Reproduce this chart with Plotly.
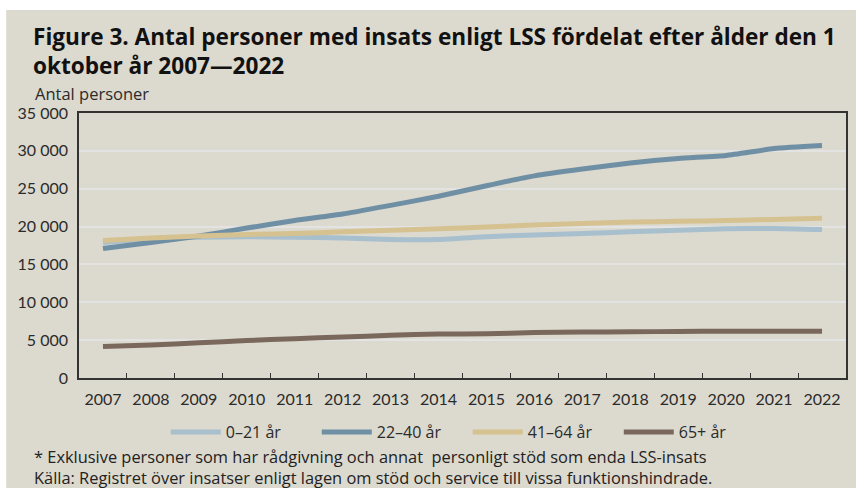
import plotly.graph_objects as go

# Antal personer med insats enligt LSS per åldersgrupp, 1 oktober
years = [str(y) for y in range(2007, 2023)]
age_0_21 = [17900, 18400, 18600, 18650, 18600, 18500, 18300, 18300,
            18650, 18900, 19100, 19300, 19500, 19700, 19750, 19600]
age_22_40 = [17100, 17900, 18750, 19800, 20800, 21650, 22800, 24000,
             25400, 26700, 27600, 28400, 29000, 29400, 30300, 30700]
age_41_64 = [18150, 18500, 18750, 18950, 19100, 19300, 19500, 19700,
             19950, 20200, 20400, 20600, 20700, 20800, 20950, 21100]
age_65_plus = [4150, 4350, 4650, 4950, 5200, 5400, 5650, 5800,
               5850, 6000, 6080, 6100, 6150, 6170, 6170, 6170]

series_names = ["0–21 år", "22–40 år", "41–64 år", "65+ år"]
series_values = [age_0_21, age_22_40, age_41_64, age_65_plus]
series_colors = ["#a8bfce", "#6f8fa4", "#d6c290", "#7b685d"]

y_ticks = list(range(0, 35001, 5000))

TEXT_FONT = "Open Sans"
TICK_FONT = "Lato"
W, H = 856, 488
ML, MR, MT, MB = 79, 8, 113, 110
PW, PH = W - ML - MR, H - MT - MB


def px_x(px):
    return (px - ML) / PW


def px_y(py):
    return (H - MB - py) / PH


fig = go.Figure()
for name, vals, col in zip(series_names, series_values, series_colors):
    fig.add_trace(go.Scatter(
        x=years, y=vals, name=name, mode="lines",
        line=dict(color=col, width=5, shape="spline", smoothing=0.5),
    ))

notes = ("* Exklusive personer som har rådgivning och annat  personligt stöd som enda LSS-insats"
         "<br>Källa: Registret över insatser enligt lagen om stöd och service till vissa funktionshindrade.")

fig.update_layout(
    width=W, height=H,
    margin=dict(l=ML, r=MR, t=MT, b=MB),
    paper_bgcolor="white",
    plot_bgcolor="white",
    separators=", ",
    font=dict(family=TEXT_FONT, size=16, color="#2b2b2b"),
    showlegend=True,
    legend=dict(
        orientation="h", x=px_x(166), xanchor="left",
        y=px_y(432), yanchor="middle",
        bgcolor="rgba(0,0,0,0)", font=dict(size=16, color="#2b2b2b"),
        entrywidth=86, itemwidth=50,
    ),
    shapes=[dict(
        type="rect", xref="paper", yref="paper", layer="below",
        x0=px_x(6), x1=px_x(W + 2), y0=px_y(H + 2), y1=px_y(10),
        fillcolor="#dcd9ce", line=dict(width=0),
    )],
    annotations=[
        dict(text="<b>Figure 3. Antal personer med insats enligt LSS fördelat efter ålder den 1<br>oktober år 2007—2022</b>",
             xref="paper", yref="paper", x=px_x(31), y=px_y(19),
             xanchor="left", yanchor="top", align="left", showarrow=False,
             font=dict(size=22.6, color="#111111", family=TEXT_FONT)),
        dict(text="Antal personer", xref="paper", yref="paper",
             x=px_x(33), y=px_y(93), xanchor="left", yanchor="middle",
             showarrow=False, font=dict(size=16.5, color="#2b2b2b")),
        dict(text=notes, xref="paper", yref="paper",
             x=px_x(33), y=px_y(490), xanchor="left", yanchor="bottom",
             align="left", showarrow=False, borderpad=0,
             font=dict(size=16.4, color="#222222")),
    ],
)

fig.update_xaxes(
    type="category", categoryorder="array", categoryarray=years,
    range=[-0.5, len(years) - 0.5],
    tickson="boundaries", ticks="inside", ticklen=5, tickcolor="#333333",
    showline=True, linecolor="#333333", linewidth=1.5, mirror=True,
    showgrid=False, ticklabelstandoff=6,
    tickfont=dict(family=TICK_FONT, size=16, color="#2b2b2b"),
)
fig.update_yaxes(
    range=[0, 35000], tickvals=y_ticks, tickformat=",d",
    showline=True, linecolor="#333333", linewidth=1.5, mirror=True,
    showgrid=True, gridcolor="#e3e3e3", gridwidth=1.5,
    ticks="", zeroline=False, ticklabelstandoff=6,
    tickfont=dict(family=TICK_FONT, size=16, color="#2b2b2b"),
)

fig.write_html("out.html")
